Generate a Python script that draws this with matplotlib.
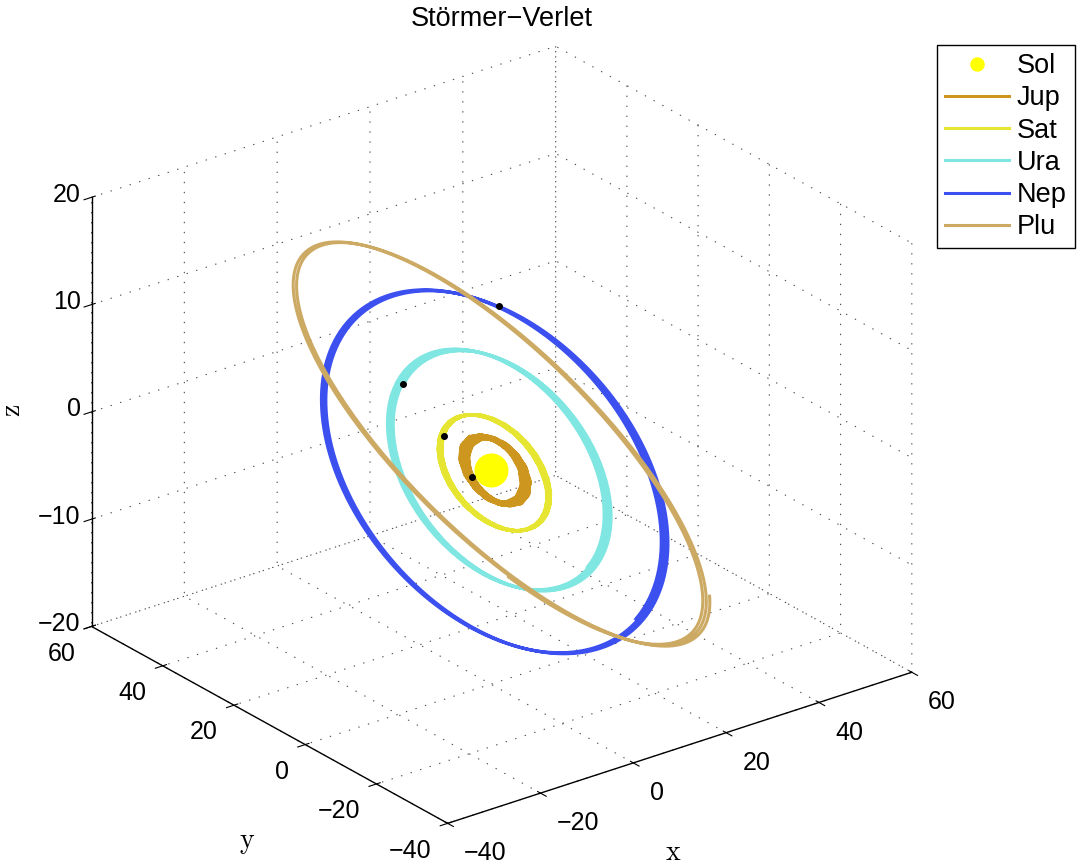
import numpy as np
import matplotlib
matplotlib.use('Agg')
import matplotlib.pyplot as plt
from mpl_toolkits.mplot3d import proj3d

plt.rcParams['font.family'] = ['Liberation Sans', 'DejaVu Sans']
plt.rcParams['mathtext.fontset'] = 'cm'

# outer solar system: sun (with inner planets), Jupiter .. Pluto
names = ['Sol', 'Jup', 'Sat', 'Ura', 'Nep', 'Plu']
colors = ['#FFFF00', '#CD961E', '#E6E632', '#80E6E2', '#3C50F0', '#CDAA64']

G = 2.95912208286e-4
masses = np.array([1.00000597682, 0.000954786104043, 0.000285583733151,
                   0.0000437273164546, 0.0000517759138449, 1.0 / 1.3e8])

# initial positions [AU]
q_init = np.array([[0.0, 0.0, 0.0],
                   [-3.5023653, -3.8169847, -1.5507963],
                   [9.0755314, -3.0458353, -1.6483708],
                   [8.3101420, -16.2901086, -7.2521278],
                   [11.4707666, -25.7294829, -10.8169456],
                   [-15.5387357, -25.2225594, -3.1902382]])

# initial velocities [AU/day]
v_init = np.array([[0.0, 0.0, 0.0],
                   [0.00565429, -0.00412490, -0.00190589],
                   [0.00168318, 0.00483525, 0.00192462],
                   [0.00354178, 0.00137102, 0.00055029],
                   [0.00288930, 0.00114527, 0.00039677],
                   [0.00276725, -0.00170702, -0.00136504]])

h = 365.25       # one year per step [days]
n_steps = 550

xticks = [-40, -20, 0, 20, 40, 60]
yticks = [-40, -20, 0, 20, 40, 60]
zticks = [-20, -10, 0, 10, 20]


def accel(q):
    d = q[None, :, :] - q[:, None, :]
    r = np.linalg.norm(d, axis=2)
    np.fill_diagonal(r, np.inf)
    return G * np.sum(masses[None, :, None] * d / r[:, :, None] ** 3, axis=1)


# Störmer-Verlet
q = q_init.copy()
v = v_init.copy()
a = accel(q)
traj = [q.copy()]
for k in range(n_steps):
    v_half = v + 0.5 * h * a
    q = q + h * v_half
    a = accel(q)
    v = v_half + 0.5 * h * a
    traj.append(q.copy())
traj = np.array(traj)


def tick_str(t):
    return ('\u2212%d' % -t) if t < 0 else '%d' % t


fig = plt.figure(figsize=(10.84, 8.68), dpi=100)
W = 800
ax = fig.add_axes([90.85 / 1084, 22.4 / 868, W / 1084, W / 868],
                  projection='3d')
ax.set_proj_type('ortho')
ax.view_init(elev=25.1, azim=-127.5)
ax.set_box_aspect((1, 1, 0.81), zoom=1.157)
ax.computed_zorder = False

for axis in (ax.xaxis, ax.yaxis, ax.zaxis):
    axis.set_pane_color((1, 1, 1, 0))
    axis.pane.set_edgecolor((1, 1, 1, 0))
    axis._axinfo['grid'].update(color='0.3', linewidth=0.8,
                                linestyle=(0, (1.2, 7.8)))
    axis.line.set_linewidth(1.0)
    axis.line.set_color('black')

ax.plot([q_init[0, 0]], [q_init[0, 1]], [q_init[0, 2]], 'o', color=colors[0],
        ms=23.5, label=names[0])
for i in range(1, 6):
    ax.plot(traj[:, i, 0], traj[:, i, 1], traj[:, i, 2], '-', color=colors[i],
            lw=2.2, label=names[i])
# last positions of the planets
for i in range(1, 5):
    ax.plot([traj[-1, i, 0]], [traj[-1, i, 1]], [traj[-1, i, 2]], '.',
            color='black', ms=8)

ax.set_xlim(-40, 60)
ax.set_ylim(-40, 60)
ax.set_zlim(-20, 20)
ax.set_xticks(xticks)
ax.set_yticks(yticks)
ax.set_zticks(zticks)
for axis in (ax.xaxis, ax.yaxis, ax.zaxis):
    axis.set_tick_params(labelbottom=False, labeltop=False)

# tick labels next to the projected tick positions on the box edges
M = ax.get_proj()


def edge_label(x, y, z, s, dx, dy, ha, va):
    px, py, _ = proj3d.proj_transform(x, y, z, M)
    ax.annotate(s, xy=(px, py), xycoords='data', xytext=(dx, dy),
                textcoords='offset points', ha=ha, va=va, fontsize=18,
                annotation_clip=False)


for t in xticks:
    edge_label(t, -40, -20, tick_str(t), 11.8, -13.0, 'left', 'top')
for t in yticks:
    edge_label(-40, t, -20, tick_str(t), -11.6, -11.0, 'right', 'top')
for t in zticks:
    edge_label(-40, 60, t, tick_str(t), -7.9, 1.8, 'right', 'center')

fig.text(502 / 1084, 1 - 19 / 868, 'Störmer\u2212Verlet', ha='center',
         va='center', fontsize=19.5)
fig.text(673 / 1084, 1 - 853 / 868, r'$\mathrm{x}$', ha='center', va='center',
         fontsize=20)
fig.text(247 / 1084, 1 - 843 / 868, r'$\mathrm{y}$', ha='center', va='center',
         fontsize=20)
fig.text(13 / 1084, 1 - 410 / 868, r'$\mathrm{z}$', ha='center', va='center',
         fontsize=20, rotation=90)

handles, labels = ax.get_legend_handles_labels()
leg = fig.legend(handles, labels, loc='upper right',
                 bbox_to_anchor=(1075 / 1084, 1 - 45 / 868), fontsize=19.5,
                 fancybox=False, edgecolor='black', framealpha=1,
                 markerscale=0.4, handlelength=2.35, handletextpad=0.3,
                 labelspacing=0.23, borderpad=0.3, borderaxespad=0)
leg.get_frame().set_linewidth(1.0)

fig.savefig('out.png', dpi=100)
